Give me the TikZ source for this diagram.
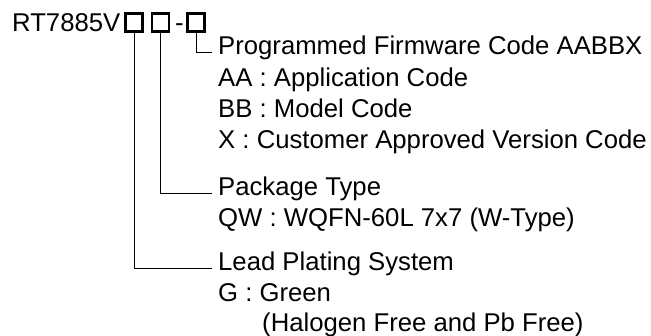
\documentclass[tikz,border=0pt]{standalone}
\usepackage{fontspec}
\setmainfont{Liberation Sans}

\begin{document}
\begin{tikzpicture}[x=1pt, y=-1pt,
        txt/.style={anchor=base west, inner sep=0pt, font=\fontsize{25.7}{31}\selectfont},
        digit/.style={draw, line width=2.6pt, minimum width=17pt, minimum height=18pt, inner sep=0pt},
        lead/.style={line width=0.8pt}]
            \useasboundingbox (0,0) rectangle (651,336);

            \node[txt] (pn) at (12,32) {RT7885V};
            \node[digit] (B1) at (134,22.5) {};
            \node[digit] (B2) at (160.5,22.5) {};
            \node[txt, anchor=base] (dash) at (179.5,32) {-};
            \node[digit] (B3) at (196,22.5) {};

            \node[txt] (fw) at (218,55) {Programmed Firmware Code AABBX};
            \node[txt] (aa) at (218,87) {AA : Application Code};
            \node[txt] (bb) at (218,118) {BB : Model Code};
            \node[txt] (xx) at (218,149) {X : Customer Approved Version Code};

            \node[txt] (pkg) at (218,196) {Package Type};
            \node[txt] (qw) at (218,227) {QW : WQFN-60L 7x7 (W-Type)};

            \node[txt] (lps) at (218,271) {Lead Plating System};
            \node[txt] (gg) at (218,302) {G : Green};
            \node[txt] (hf) at (262,332) {(Halogen Free and Pb Free)};

            \draw[lead] (B3.south) |- ([xshift=-6pt]fw.mid west);
            \draw[lead] (B2.south) |- ([xshift=-6pt]pkg.mid west);
            \draw[lead] (B1.south) |- ([xshift=-6pt]lps.mid west);
        \end{tikzpicture}
\end{document}
